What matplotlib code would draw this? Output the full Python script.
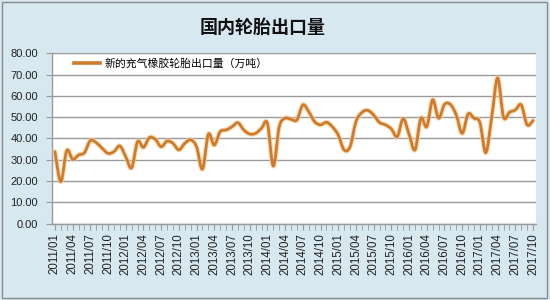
import matplotlib
matplotlib.use('Agg')
import matplotlib.pyplot as plt
from matplotlib.path import Path
from matplotlib.patches import PathPatch, Rectangle
from matplotlib.lines import Line2D
import numpy as np

plt.rcParams['font.family'] = ['Liberation Sans', 'Noto Sans CJK SC', 'DejaVu Sans']

# monthly export volume, 2011/01 .. 2017/10 (10k tonnes)
exports = [33.8, 19.7, 34.3, 30.2, 32.2, 33.3, 39.0, 38.0, 35.4, 33.0, 33.8, 36.5,
           31.4, 26.2, 38.5, 35.8, 40.4, 39.6, 36.1, 38.8, 37.7, 34.6, 37.7, 39.3,
           36.1, 25.6, 42.0, 36.9, 43.2, 44.0, 45.5, 47.4, 44.0, 42.1, 42.4, 44.8,
           47.1, 27.0, 45.5, 49.5, 49.0, 48.7, 55.8, 52.6, 47.9, 46.4, 47.6, 45.5,
           41.6, 34.6, 36.1, 47.9, 52.2, 53.2, 51.0, 47.5, 46.4, 44.5, 40.8, 49.3,
           42.0, 34.6, 49.5, 45.5, 58.2, 49.5, 56.0, 56.0, 51.0, 42.4, 51.5, 49.5,
           47.5, 33.3, 50.0, 68.5, 50.0, 52.3, 53.4, 55.8, 46.4, 48.4]
tick_labels = ['2011/01', '2011/04', '2011/07', '2011/10',
               '2012/01', '2012/04', '2012/07', '2012/10',
               '2013/01', '2013/04', '2013/07', '2013/10',
               '2014/01', '2014/04', '2014/07', '2014/10',
               '2015/01', '2015/04', '2015/07', '2015/10',
               '2016/01', '2016/04', '2016/07', '2016/10',
               '2017/01', '2017/04', '2017/07', '2017/10']
y_ticks = [0, 10, 20, 30, 40, 50, 60, 70, 80]

title = '国内轮胎出口量'
series_name = '新的充气橡胶轮胎出口量（万吨）'

line_col = '#cf7b2c'
glow_col = '#f6cf9c'
grid_col = '#9a9a9a'
bg_col = '#d8e8f0'

fig = plt.figure(figsize=(5.5, 3.0), dpi=100, facecolor=bg_col)
ax = fig.add_axes([0.0945, 0.255, 0.88, 0.567])
ax.set_facecolor('white')

# smoothed line like excel (bezier through the points)
x = np.arange(len(exports), dtype=float)
y = np.array(exports)
verts = [(x[0], y[0])]
codes = [Path.MOVETO]
n = len(x)
for i in range(n - 1):
    p0 = np.array([x[max(i - 1, 0)], y[max(i - 1, 0)]])
    p1 = np.array([x[i], y[i]])
    p2 = np.array([x[i + 1], y[i + 1]])
    p3 = np.array([x[min(i + 2, n - 1)], y[min(i + 2, n - 1)]])
    c1 = p1 + (p2 - p0) / 6
    c2 = p2 - (p3 - p1) / 6
    verts += [tuple(c1), tuple(c2), tuple(p2)]
    codes += [Path.CURVE4] * 3
path = Path(verts, codes)
ax.add_patch(PathPatch(path, facecolor='none', edgecolor=glow_col, lw=3.6,
                       alpha=0.7, zorder=3, capstyle='round', joinstyle='round'))
ax.add_patch(PathPatch(path, facecolor='none', edgecolor=line_col, lw=2.0,
                       zorder=4, capstyle='round', joinstyle='round'))

ax.set_xlim(-0.5, n - 0.5)
ax.set_ylim(0, 80)
ax.set_yticks(y_ticks)
ax.set_yticklabels(['%.2f' % v for v in y_ticks], fontsize=8, color='#222222')
ax.set_xticks(np.arange(0, n, 3))
ax.set_xticks(np.arange(n), minor=True)
ax.set_xticklabels(tick_labels, rotation=90, fontsize=8.3, color='#222222')
ax.tick_params(axis='x', which='both', length=4, color=grid_col, pad=3)
ax.tick_params(axis='y', length=4, color=grid_col, pad=6)
ax.grid(axis='y', color=grid_col, lw=1.0, zorder=1)
ax.set_axisbelow(True)
for s in ['top', 'right']:
    ax.spines[s].set_visible(False)
for s in ['left', 'bottom']:
    ax.spines[s].set_color(grid_col)
    ax.spines[s].set_linewidth(1.0)

proxy = Line2D([], [], color=line_col, lw=2.6)
ax.legend([proxy], [series_name], loc='upper left', bbox_to_anchor=(0.025, 1.03),
          frameon=False, fontsize=7.8, handlelength=2.4, handletextpad=0.4)

fig.text(0.477, 0.91, title, ha='center', va='center', fontsize=13,
         weight='bold', family=['Noto Sans CJK SC', 'DejaVu Sans'], color='#111111')

fig.patches.append(Rectangle((0.004, 0.006), 0.99, 0.988, transform=fig.transFigure,
                             fill=False, edgecolor='#8a8a8a', lw=1.0))

fig.savefig('out.png', dpi=100, facecolor=bg_col)
